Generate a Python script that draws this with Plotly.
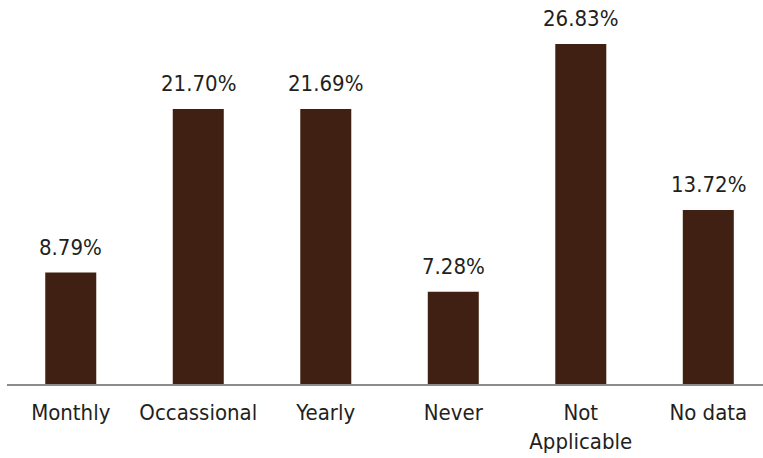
import plotly.graph_objects as go

categories = ['Monthly', 'Occassional', 'Yearly', 'Never', 'Not<br>Applicable', 'No data']
values = [8.79, 21.70, 21.69, 7.28, 26.83, 13.72]
labels = ['8.79%', '21.70%', '21.69%', '7.28%', '26.83%', '13.72%']

font_family = "DejaVu Sans Condensed, Liberation Sans Narrow, sans-serif"
text_color = '#231f20'

fig = go.Figure(go.Bar(
    x=categories, y=values,
    marker=dict(color='#3f2012', line=dict(width=0)),
    width=0.4,
))

# value labels above bars
for c, v, t in zip(categories, values, labels):
    fig.add_annotation(x=c, y=v, text=t, showarrow=False, yanchor='bottom',
                       yshift=11, font=dict(size=22, color=text_color, family=font_family))

fig.update_layout(
    width=763, height=458,
    margin=dict(l=7, r=0, t=0, b=74),
    plot_bgcolor='white', paper_bgcolor='white',
    showlegend=False,
    font=dict(family=font_family, color=text_color),
)
fig.update_xaxes(
    range=[-0.5, 5.429], showline=True, linecolor='#8c8c8c', linewidth=1.5,
    tickfont=dict(size=22, color=text_color, family=font_family),
    ticks='outside', ticklen=8, tickcolor='rgba(0,0,0,0)', automargin=False,
)
fig.update_yaxes(range=[0, 30.3], visible=False)

# page body has a default 8px margin, drop it so the figure fills the window
fig.write_html("out.html", config={'displayModeBar': False},
               post_script="document.body.style.margin='0px';")
